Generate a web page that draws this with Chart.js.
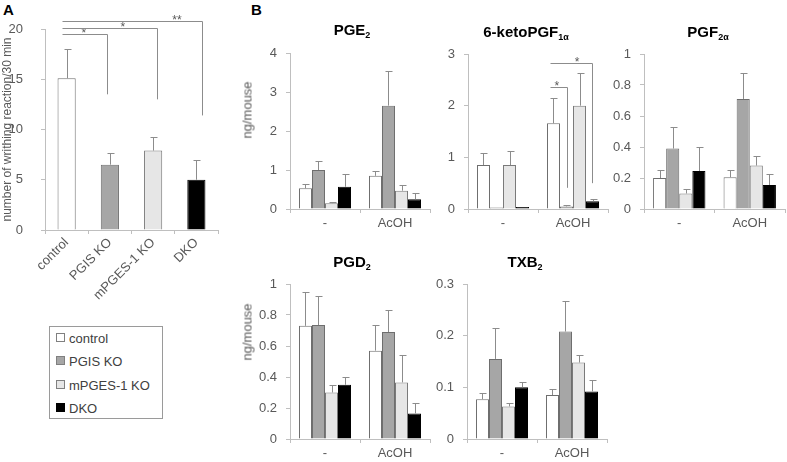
<!DOCTYPE html>
<html lang="en">
<head>
<meta charset="UTF-8">
<title>Writhing and prostanoid levels</title>
<script src="https://cdn.jsdelivr.net/npm/chart.js/dist/chart.umd.min.js"></script>
<style>
  body { margin: 0; width: 787px; height: 462px; position: relative; overflow: hidden; background: #fff;
         font-family: "Liberation Sans", Arial, sans-serif; }
  canvas { position: absolute; }
  .panel { position: absolute; font-weight: bold; font-size: 15px; color: #000; }
  .ttl { position: absolute; font-weight: bold; font-size: 15px; color: #000; transform: translate(-50%, -50%); white-space: nowrap; }
  .ttl sub { font-size: 9px; vertical-align: -3px; }
  .ytl { position: absolute; font-size: 13px; color: #595959; white-space: nowrap; transform: translate(-50%, -50%) rotate(-90deg); }
  #legend { position: absolute; left: 49px; top: 326px; width: 112px; height: 91px; border: 1px solid #9a9a9a; }
  #legend div { position: absolute; left: 6px; font-size: 13px; color: #404040; line-height: 14px; }
  #legend span { display: inline-block; width: 7px; height: 7px; border: 1px solid #808080; margin-right: 4px; vertical-align: 1px; }
</style>
</head>
<body>
<div class="panel" style="left:3px;top:1px;">A</div>
<div class="panel" style="left:251px;top:1px;">B</div>
<div id="legend"></div>

<script>
// ---- data ----
const genotypes = ['control', 'PGIS KO', 'mPGES-1 KO', 'DKO'];
const treatments = ['-', 'AcOH'];

// panel A: writhing count, mean and error (upper half)
const writhingMean = [15.1, 6.5, 7.9, 5.0];
const writhingErr = [2.95, 1.2, 1.4, 2.0];

// panel B: rows = genotype, columns = treatment ('-', 'AcOH'), ng/mouse
const pge2Mean = [[0.53, 0.85], [1.0, 2.65], [0.15, 0.47], [0.57, 0.25]];
const pge2Err  = [[0.10, 0.13], [0.23, 0.90], [0.03, 0.15], [0.33, 0.15]];

const ketoMean = [[0.85, 1.66], [0.03, 0.05], [0.85, 2.0], [0.04, 0.15]];
const ketoErr  = [[0.24, 0.49], [0.0, 0.02], [0.27, 0.63], [0.0, 0.05]];

const pgf2aMean = [[0.2, 0.205], [0.39, 0.71], [0.1, 0.28], [0.245, 0.155]];
const pgf2aErr  = [[0.05, 0.045], [0.14, 0.17], [0.03, 0.06], [0.155, 0.07]];

const pgd2Mean = [[0.73, 0.57], [0.735, 0.69], [0.3, 0.365], [0.35, 0.165]];
const pgd2Err  = [[0.22, 0.165], [0.19, 0.145], [0.05, 0.18], [0.05, 0.07]];

const txb2Mean = [[0.077, 0.085], [0.155, 0.208], [0.063, 0.148], [0.1, 0.092]];
const txb2Err  = [[0.013, 0.012], [0.06, 0.06], [0.007, 0.015], [0.01, 0.023]];

// significance brackets (x in category units, y in data units)
const writhingSig = [
  { from: -0.11, to: 0.93, at: 19.47, drop: 13.5, mark: '*', markX: 0.40 },
  { from: -0.11, to: 2.09, at: 20.07, drop: 13.0, mark: '*', markX: 1.30 },
  { from: -0.11, to: 3.13, at: 20.8, drop: 11.4, mark: '**', markX: 2.55 }
];
const ketoSig = [
  { from: 0.67, to: 0.91, at: 2.37, drop: 0.41, mark: '*', markX: 0.77 },
  { from: 0.67, to: 1.27, at: 2.83, drop: 0.5, mark: '*', markX: 1.06 }
];

// ---- styles ----
const fills = ['#ffffff', '#a6a6a6', '#e6e6e6', '#000000'];
const edges = ['#6e6e6e', '#6e6e6e', '#7a7a7a', '#000000'];
const axisGray = '#bfbfbf';
const tickGray = '#595959';

Chart.defaults.font.family = '"Liberation Sans", Arial, sans-serif';
Chart.defaults.color = tickGray;
Chart.defaults.animation = false;

// legend
const legend = document.getElementById('legend');
genotypes.forEach((g, i) => {
  const row = document.createElement('div');
  row.style.top = (5 + i * 23.3) + 'px';
  row.innerHTML = `<span style="background:${fills[i]};border-color:${i === 3 ? '#000' : '#808080'}"></span>${g}`;
  legend.appendChild(row);
});

const errorBars = {
  id: 'errorBars',
  afterDatasetsDraw(chart) {
    const ctx = chart.ctx, ys = chart.scales.y;
    ctx.save();
    ctx.strokeStyle = '#8c8c8c';
    ctx.lineWidth = 1;
    chart.data.datasets.forEach((ds, i) => {
      chart.getDatasetMeta(i).data.forEach((bar, j) => {
        const e = ds.err[j];
        if (!e) return;
        const x = Math.round(bar.x) + 0.5;
        const top = Math.round(ys.getPixelForValue(ds.data[j] + e)) + 0.5;
        ctx.beginPath();
        ctx.moveTo(x, bar.y);
        ctx.lineTo(x, top);
        ctx.moveTo(x - 3, top);
        ctx.lineTo(x + 4, top);
        ctx.stroke();
      });
    });
    ctx.restore();
  }
};

function bracketPlugin(items) {
  return {
    id: 'brackets',
    afterDraw(chart) {
      const ctx = chart.ctx, xs = chart.scales.x, ys = chart.scales.y;
      ctx.save();
      ctx.strokeStyle = '#8c8c8c';
      ctx.fillStyle = tickGray;
      ctx.lineWidth = 1;
      ctx.font = '12px "Liberation Sans", Arial, sans-serif';
      ctx.textAlign = 'center';
      ctx.textBaseline = 'bottom';
      items.forEach(b => {
        const x1 = Math.round(xs.getPixelForValue(b.from)) + 0.5;
        const x2 = Math.round(xs.getPixelForValue(b.to)) + 0.5;
        const y = Math.round(ys.getPixelForValue(b.at)) + 0.5;
        const y2 = ys.getPixelForValue(b.drop);
        ctx.beginPath();
        ctx.moveTo(x1, y);
        ctx.lineTo(x2, y);
        ctx.lineTo(x2, y2);
        ctx.stroke();
        ctx.fillText(b.mark, xs.getPixelForValue(b.markX), y + 5);
      });
      ctx.restore();
    }
  };
}

// place a canvas so that its plot area lands on box {l,t,r,b}
function makeCanvas(box, yW, padTop, padRight, xH) {
  const c = document.createElement('canvas');
  const w = (box.r - box.l) + yW + padRight;
  const h = (box.b - box.t) + padTop + xH;
  c.width = w; c.height = h;
  c.style.left = (box.l - yW) + 'px';
  c.style.top = (box.t - padTop) + 'px';
  document.body.appendChild(c);
  return c;
}

function addText(cls, html, x, y) {
  const d = document.createElement('div');
  d.className = cls;
  d.style.left = x + 'px';
  d.style.top = y + 'px';
  d.innerHTML = html;
  document.body.appendChild(d);
}

function scales(o) {
  return {
    x: {
      grid: { display: true, drawOnChartArea: false, drawTicks: true, tickLength: 4, color: axisGray, offset: true },
      border: { color: axisGray },
      ticks: { padding: o.xPad, font: { size: 13 }, color: tickGray, autoSkip: false,
               minRotation: o.rot, maxRotation: o.rot },
      afterFit: s => { s.height = o.xH; }
    },
    y: {
      min: 0, max: o.yMax,
      grid: { display: true, drawOnChartArea: false, drawTicks: true, tickLength: 4, color: axisGray },
      border: { color: axisGray },
      ticks: { stepSize: o.step, padding: o.yPad, font: { size: 13 }, color: tickGray,
               callback: v => String(Math.round(v * 100) / 100) },
      title: { display: !!o.yTitle, text: o.yTitle || '', font: { size: 12 }, color: tickGray, padding: 0 },
      afterFit: s => { s.width = o.yW; }
    }
  };
}

// ---- panel A ----
{
  const box = { l: 45, t: 29, r: 218, b: 230 };
  const c = makeCanvas(box, 45, 29, 12, 70);
  new Chart(c, {
    type: 'bar',
    data: {
      labels: genotypes,
      datasets: [{
        data: writhingMean, err: writhingErr,
        backgroundColor: fills, borderColor: edges, borderWidth: 1,
        barPercentage: 1, categoryPercentage: 0.42
      }]
    },
    options: {
      responsive: false,
      layout: { padding: { top: 29, right: 12, left: 0, bottom: 0 } },
      plugins: { legend: { display: false }, tooltip: { enabled: false } },
      scales: scales({ yMax: 20, step: 5, yTitle: 'number of writhing reaction/30 min',
                       yW: 45, xH: 70, rot: 45, xPad: 1, yPad: 18 })
    },
    plugins: [errorBars, bracketPlugin(writhingSig)]
  });
}

// ---- panel B ----
const panelsB = [
  { mean: pge2Mean, err: pge2Err, yMax: 4, step: 1, box: { l: 290, t: 53, r: 430, b: 209 },
    title: 'PGE<sub>2</sub>', tx: 352, ty: 30, yTitleAt: 110, sig: [] },
  { mean: ketoMean, err: ketoErr, yMax: 3, step: 1, box: { l: 468, t: 54, r: 608, b: 209 },
    title: '6-ketoPGF<sub>1α</sub>', tx: 526, ty: 32, sig: ketoSig },
  { mean: pgf2aMean, err: pgf2aErr, yMax: 1, step: 0.2, box: { l: 644, t: 54, r: 785, b: 209 },
    title: 'PGF<sub>2α</sub>', tx: 708, ty: 32, sig: [] },
  { mean: pgd2Mean, err: pgd2Err, yMax: 1, step: 0.2, box: { l: 290, t: 284, r: 430, b: 439 },
    title: 'PGD<sub>2</sub>', tx: 352, ty: 262, yTitleAt: 332, sig: [] },
  { mean: txb2Mean, err: txb2Err, yMax: 0.3, step: 0.1, box: { l: 467, t: 284, r: 607, b: 439 },
    title: 'TXB<sub>2</sub>', tx: 525, ty: 262, sig: [] }
];

panelsB.forEach(p => {
  const yW = 40, padTop = 24, padRight = 2, xH = 28;
  const c = makeCanvas(p.box, yW, padTop, padRight, xH);
  addText('ttl', p.title, p.tx, p.ty);
  if (p.yTitleAt) addText('ytl', 'ng/mouse', p.box.l - 43, p.yTitleAt);

  new Chart(c, {
    type: 'bar',
    data: {
      labels: treatments,
      datasets: genotypes.map((g, i) => ({
        label: g, data: p.mean[i], err: p.err[i],
        backgroundColor: fills[i], borderColor: edges[i], borderWidth: 1,
        barPercentage: 1, categoryPercentage: 0.743
      }))
    },
    options: {
      responsive: false,
      layout: { padding: { top: padTop, right: padRight, left: 0, bottom: 0 } },
      plugins: { legend: { display: false }, tooltip: { enabled: false } },
      scales: scales({ yMax: p.yMax, step: p.step, yW: yW, xH: xH, rot: 0, xPad: 3, yPad: 9 })
    },
    plugins: [errorBars, bracketPlugin(p.sig)]
  });
});
</script>
</body>
</html>
